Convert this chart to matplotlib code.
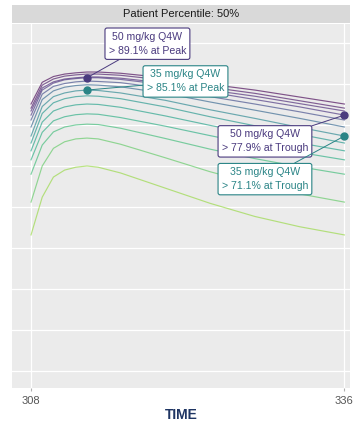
import numpy as np
import matplotlib
matplotlib.use("Agg")
import matplotlib.pyplot as plt

# ---- data: simulated response over one Q4W dosing interval ----
time = [308, 309, 310, 311, 312, 313, 314, 316, 320, 324, 328, 332, 336]

resp_65 = [65.1, 70.4, 71.8, 72.4, 72.7, 72.9, 72.9, 72.6, 71.5, 69.9, 68.5, 66.8, 65.1]
resp_60 = [64.1, 69.7, 71.2, 71.9, 72.2, 72.4, 72.4, 72.1, 70.9, 69.2, 67.7, 65.9, 64.1]
resp_55 = [63.4, 69.0, 70.5, 71.2, 71.5, 71.7, 71.7, 71.4, 70.2, 68.5, 67.0, 65.2, 63.4]
resp_50 = [62.4, 68.5, 70.2, 71.0, 71.3, 71.5, 71.5, 71.1, 69.8, 68.0, 66.2, 64.4, 62.4]
resp_45 = [61.2, 67.5, 69.4, 70.1, 70.5, 70.7, 70.6, 70.3, 68.9, 66.9, 65.1, 63.2, 61.2]
resp_40 = [59.5, 66.2, 68.3, 69.2, 69.6, 69.8, 69.7, 69.3, 67.7, 65.6, 63.6, 61.6, 59.5]
resp_35 = [57.3, 64.5, 66.9, 67.8, 68.3, 68.5, 68.4, 67.8, 66.0, 63.7, 61.6, 59.4, 57.3]
resp_30 = [55.6, 62.8, 65.4, 66.4, 66.9, 67.1, 67.0, 66.4, 64.4, 62.0, 59.8, 57.7, 55.6]
resp_25 = [53.7, 60.7, 63.4, 64.4, 64.9, 65.1, 65.0, 64.3, 62.2, 59.9, 57.7, 55.6, 53.7]
resp_20 = [51.5, 58.2, 61.0, 62.0, 62.5, 62.7, 62.6, 61.8, 59.7, 57.4, 55.2, 53.3, 51.5]
resp_15 = [48.0, 55.1, 58.3, 59.5, 60.0, 60.2, 60.1, 59.2, 56.7, 54.1, 51.8, 49.8, 48.0]
resp_10 = [41.2, 50.0, 54.3, 55.9, 56.6, 56.8, 56.6, 55.3, 52.0, 48.6, 45.7, 43.2, 41.2]
resp_5 = [33.2, 42.4, 47.3, 49.0, 49.7, 50.0, 49.7, 48.3, 44.6, 40.9, 37.7, 35.2, 33.2]

doses = [65, 60, 55, 50, 45, 40, 35, 30, 25, 20, 15, 10, 5]
series = [resp_65, resp_60, resp_55, resp_50, resp_45, resp_40, resp_35,
          resp_30, resp_25, resp_20, resp_15, resp_10, resp_5]

peak_day = 313
trough_day = 336
labels_50 = ["50 mg/kg Q4W\n> 89.1% at Peak", "50 mg/kg Q4W\n> 77.9% at Trough"]
labels_35 = ["35 mg/kg Q4W\n> 85.1% at Peak", "35 mg/kg Q4W\n> 71.1% at Trough"]

# viridis position per dose line (high dose = purple)
cmap_pos = [0.0, 0.05, 0.1, 0.14, 0.22, 0.32, 0.45, 0.52, 0.57, 0.62, 0.68, 0.75, 0.84]

PURPLE = "#4a3a7e"
TEAL = "#2a8486"
PANEL_BG = "#ebebeb"

fig = plt.figure(figsize=(3.53, 4.32), dpi=100)
ax = fig.add_axes([12 / 353, 1 - 388 / 432, 338 / 353, 364 / 432])
ax.set_facecolor(PANEL_BG)

cmap = plt.get_cmap("viridis")
for y, p in zip(series, cmap_pos):
    ax.plot(time, y, color=cmap(p), lw=0.85, alpha=0.65, zorder=2)

ip = time.index(peak_day)
it = time.index(trough_day)

# points + labels
ax.plot(time[ip], resp_50[ip], "o", color=PURPLE, ms=5, zorder=4)
ax.plot(time[it], resp_50[it], "o", color=PURPLE, ms=5, zorder=4)
ax.plot(time[ip], resp_35[ip], "o", color=TEAL, ms=5, zorder=4)
ax.plot(time[it], resp_35[it], "o", color=TEAL, ms=5, zorder=4)

def tag(txt, xy, xytext, col):
    ax.annotate(txt, xy=xy, xytext=xytext, textcoords="data",
                ha="center", va="center", fontsize=7.6, color=col,
                family="Liberation Sans", linespacing=1.5,
                bbox=dict(boxstyle="round,pad=0.35,rounding_size=0.2",
                          fc="white", ec=col, lw=0.8),
                arrowprops=dict(arrowstyle="-", color=col, lw=0.7,
                                shrinkA=0, shrinkB=2),
                zorder=5)

tag(labels_50[0], (time[ip], resp_50[ip]), (318.4, 79.8), PURPLE)
tag(labels_35[0], (time[ip], resp_35[ip]), (321.8, 70.6), TEAL)
tag(labels_50[1], (time[it], resp_50[it]), (328.9, 56.0), PURPLE)
tag(labels_35[1], (time[it], resp_35[it]), (328.9, 46.8), TEAL)

ax.set_xlim(306.3, 336.5)
ax.set_ylim(-4.1, 84.6)
ax.set_yticks(np.arange(0, 81, 10))
ax.set_xticks([308, 336])
ax.grid(True, color="white", lw=0.9, zorder=0)
ax.set_axisbelow(True)
for s in ax.spines.values():
    s.set_visible(False)
ax.tick_params(axis="y", left=False, labelleft=False)
ax.tick_params(axis="x", length=2.5, color="#b0b0b0", labelsize=8,
               labelcolor="#555555", pad=3)
for lab in ax.get_xticklabels():
    lab.set_family("Liberation Sans")
ax.set_xlabel("TIME", fontsize=10, fontweight="bold", color="#1f3563",
              family="Liberation Sans", labelpad=2)

# facet strip
strip = fig.add_axes([12 / 353, 1 - 23 / 432, 338 / 353, 18 / 432])
strip.set_facecolor("#d9d9d9")
strip.set_xticks([])
strip.set_yticks([])
for s in strip.spines.values():
    s.set_visible(False)
strip.text(0.5, 0.5, "Patient Percentile: 50%", ha="center", va="center",
           fontsize=8, color="#1a1a1a", family="Liberation Sans",
           transform=strip.transAxes)

fig.savefig("out.png", dpi=100)
